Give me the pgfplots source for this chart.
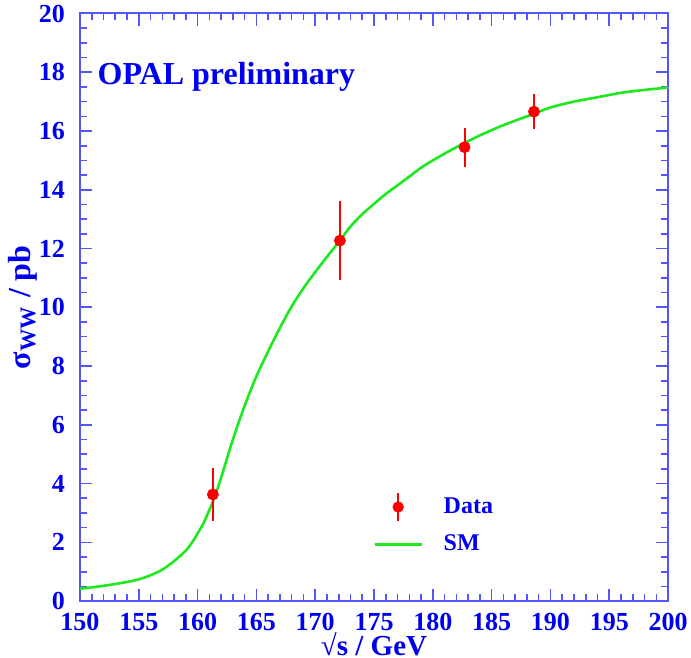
\documentclass[border=0pt]{standalone}
\usepackage{fontspec}
\setmainfont{Liberation Serif}
\usepackage{pgfplots}
\pgfplotsset{compat=1.18}
\definecolor{axblue}{RGB}{85,85,255}
\definecolor{txtblue}{RGB}{0,0,240}
\definecolor{smgreen}{RGB}{30,232,30}
\definecolor{datred}{RGB}{250,0,0}

\begin{document}
\begin{tikzpicture}
\begin{axis}[
  scale only axis, width=294pt, height=293.75pt,
  xmin=150, xmax=200, ymin=0, ymax=20,
  xtick={150,155,...,200}, ytick={0,2,...,20},
  minor x tick num=4, minor y tick num=3,
  tick align=inside, tick pos=both,
  major tick length=6pt, minor tick length=3.5pt,
  axis line style={axblue, line width=1pt},
  tick style={axblue, line width=0.8pt},
  /pgf/number format/assume math mode=true,
  ticklabel style={font=\fontsize{13}{15}\selectfont\bfseries, text=txtblue, inner sep=1pt},
  yticklabel style={xshift=-6.3pt},
  xticklabel style={yshift=-4.8pt},
  label style={font=\fontsize{14.5}{17}\selectfont\bfseries, text=txtblue},
  xlabel={√s / GeV}, ylabel={σ\textsubscript{WW} / pb},
  xlabel style={inner sep=0.5pt, yshift=0.5pt},
  ylabel style={font=\fontsize{16}{18}\selectfont\bfseries, yshift=-3.5pt},
  reverse legend,
  legend style={draw=none, fill=none, at={(0.488,0.066)}, anchor=south west,
    font=\fontsize{12}{14}\selectfont\bfseries, text=txtblue, row sep=4.5pt},
  legend cell align=left,
  clip=false,
]
% SM prediction
\addplot[smgreen, line width=1.3pt, smooth,
  legend image code/.code={\path[draw=none, fill=none] (0pt,0pt) -- (32.5pt,0pt);
    \draw[smgreen, line width=1.3pt] (0pt,0pt) -- (23.5pt,0pt);}] coordinates {
  (150,0.42)(152,0.52)(154,0.65)(155,0.74)(156,0.88)(157,1.07)(158,1.36)
  (159,1.72)(159.5,1.98)(160,2.3)(160.5,2.65)(161,3.1)(161.5,3.6)(162,4.2)
  (163,5.5)(164,6.65)(165,7.65)(166,8.5)(167,9.3)(168,10.03)(169,10.65)
  (170,11.2)(171,11.72)(172,12.22)(173,12.75)(174,13.17)(175,13.52)(176,13.86)
  (177,14.15)(178,14.45)(179,14.75)(180,15.0)(182,15.45)(184,15.85)(186,16.2)
  (188,16.5)(190,16.8)(192,17.0)(194,17.15)(196,17.3)(198,17.4)(200,17.48)};
\addlegendentry{SM}
% OPAL data
\addplot[only marks, mark=*, mark size=2.75pt, datred,
  error bars/.cd, y dir=both, y explicit,
  error bar style={line width=1pt, datred}, error mark=none,
  /pgfplots/legend image code/.code={\path[draw=none, fill=none] (0pt,0pt) -- (32.5pt,0pt);
    \draw[datred, line width=1pt] (11.75pt,-7pt) -- (11.75pt,7pt);
    \fill[datred] (11.75pt,0pt) circle (2.6pt);}] coordinates {
  (161.3,3.63) +- (0,0.89)
  (172.1,12.27) +- (0,1.34)
  (182.7,15.45) +- (0,0.66)
  (188.6,16.66) +- (0,0.60)};
\addlegendentry{Data}
\node[anchor=west, font=\fontsize{16}{19}\selectfont\bfseries, text=txtblue]
  at (rel axis cs:0.018,0.892) {OPAL preliminary};
\coordinate (bbSW) at (rel axis cs:-0.136,-0.0953);
\coordinate (bbNE) at (rel axis cs:1.039,1.023);
\end{axis}
\pgfresetboundingbox
\useasboundingbox (bbSW) rectangle (bbNE);
\end{tikzpicture}
\end{document}
